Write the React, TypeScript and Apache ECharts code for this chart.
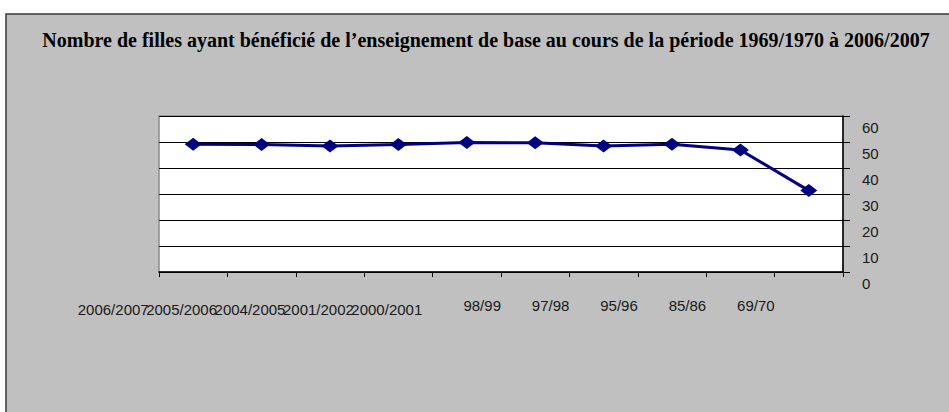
import React, { useEffect, useRef } from "react";
import * as echarts from "echarts";

const categories = [
  "2006/2007",
  "2005/2006",
  "2004/2005",
  "2001/2002",
  "2000/2001",
  "98/99",
  "97/98",
  "95/96",
  "85/86",
  "69/70",
];
const values = [49.1, 49.0, 48.5, 49.0, 49.8, 49.7, 48.5, 49.1, 46.9, 31.3];
const yTicks = { min: 0, max: 60, interval: 10 };
const titleText =
  "Nombre de filles ayant bénéficié de l’enseignement de base au cours de la période 1969/1970 à 2006/2007";

export default function App() {
  const ref = useRef<HTMLDivElement>(null);
  useEffect(() => {
    if (!ref.current) return;
    const chart = echarts.init(ref.current, undefined, { renderer: "svg" });
    chart.setOption({
      animation: false,
      backgroundColor: "#ffffff",
      graphic: [
        {
          type: "rect",
          z: -10,
          shape: { x: 6, y: 14, width: 960, height: 420 },
          style: { fill: "#c0c0c0", stroke: "#3a3a3a", lineWidth: 1.5 },
        },
        {
          type: "text",
          x: 486,
          y: 40,
          style: {
            text: titleText,
            fontFamily: "Liberation Serif",
            fontWeight: "bold",
            fontSize: 20,
            fill: "#000000",
            textAlign: "center",
            textVerticalAlign: "middle",
          },
        },
      ],
      grid: {
        left: 159,
        right: 106,
        top: 116,
        bottom: 140,
        show: true,
        backgroundColor: "#ffffff",
        borderColor: "#8a8a8a",
        borderWidth: 1.5,
      },
      xAxis: {
        type: "category",
        data: categories,
        boundaryGap: true,
        axisLine: { show: true, lineStyle: { color: "#000000", width: 1.5 } },
        axisTick: { show: true, length: 5, interval: 0, lineStyle: { color: "#000000" } },
        axisLabel: {
          interval: 0,
          margin: 26,
          color: "#1a1a1a",
          fontFamily: "Liberation Sans",
          fontSize: 15,
          formatter: (v: string) => (v.length > 6 ? `{a|${v}}` : `{b|${v}}`),
          rich: {
            a: {
              fontFamily: "Liberation Sans",
              fontSize: 15,
              color: "#1a1a1a",
              padding: [4, 160, 0, 0],
            },
            b: {
              fontFamily: "Liberation Sans",
              fontSize: 15,
              color: "#1a1a1a",
              padding: [0, 106, 0, 0],
            },
          },
        },
        splitLine: { show: false },
      },
      yAxis: {
        type: "value",
        position: "right",
        min: yTicks.min,
        max: yTicks.max,
        interval: yTicks.interval,
        axisLine: { show: true, lineStyle: { color: "#000000", width: 1.5 } },
        axisTick: { show: true, length: 7, lineStyle: { color: "#000000" } },
        axisLabel: {
          margin: 19,
          color: "#1a1a1a",
          fontFamily: "Liberation Sans",
          fontSize: 15,
          formatter: (v: number) => `{a|${v}}`,
          rich: {
            a: {
              fontFamily: "Liberation Sans",
              fontSize: 15,
              color: "#1a1a1a",
              padding: [23, 0, 0, 0],
            },
          },
        },
        splitLine: { show: true, lineStyle: { color: "#000000", width: 1 } },
      },
      series: [
        {
          type: "line",
          data: values,
          symbol: "diamond",
          symbolSize: [17, 13],
          itemStyle: { color: "#000080" },
          lineStyle: { color: "#000080", width: 3 },
        },
      ],
    });
    return () => chart.dispose();
  }, []);
  return (
    <div
      ref={ref}
      style={{ position: "fixed", left: 0, top: 0, width: 949, height: 412 }}
    />
  );
}
